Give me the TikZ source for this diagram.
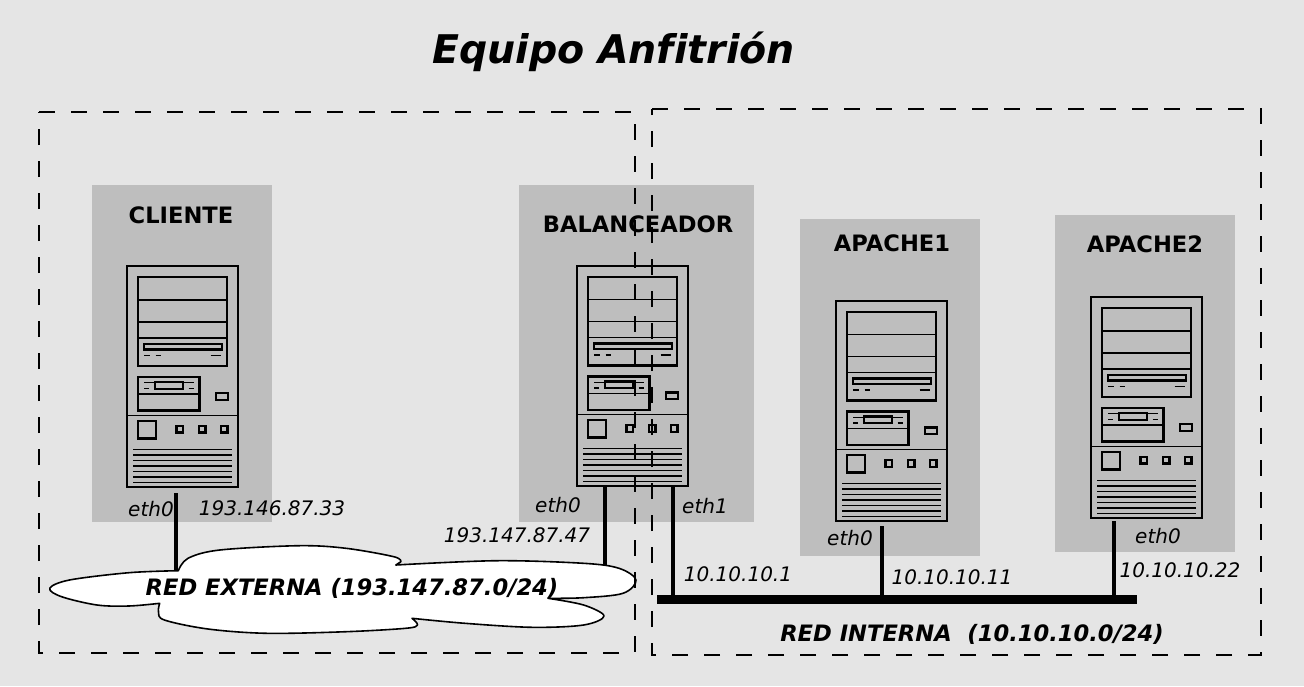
\documentclass[tikz,border=0pt]{standalone}
\usepackage{fontspec}
\setmainfont{DejaVu Sans}[Ligatures=NoCommon]
\usepackage{xcolor}
\usetikzlibrary{positioning}
\definecolor{fondo}{HTML}{E5E5E5}
\definecolor{gris}{HTML}{BEBEBE}
\tikzset{
  caja/.style={fill=gris,inner sep=0pt,minimum width=180pt},
  nombre/.style={inner sep=0pt,font=\fontsize{22.6pt}{25pt}\selectfont\bfseries},
  dato/.style={inner sep=0pt,font=\fontsize{20pt}{24pt}\selectfont\itshape},
  red/.style={inner sep=0pt,font=\fontsize{22.6pt}{26pt}\selectfont\bfseries\itshape},
  zona/.style={draw,line width=2pt,dash pattern=on 16pt off 16pt},
  cable/.style={line width=3.5pt},
  grueso/.style={line width=2.3pt},
  fino/.style={line width=1.2pt},
  pics/torre/.style={code={
    \draw[grueso] (0,0) rectangle (111,221);
    \draw[grueso] (11,11) rectangle (100,100);
    \draw[fino] (11,34) -- (100,34) (11,56) -- (100,56) (11,72) -- (100,72);
    \draw[grueso] (17,78) rectangle (95,83.5);
    \draw[fino] (17,89.5) -- (22.5,89.5) (28.5,89.5) -- (33.5,89.5) (83.5,89.5) -- (94,89.5);
    \draw[grueso] (11,111) rectangle (72.5,144.5);
    \draw[fino] (11,128) -- (72.5,128);
    \draw[grueso] (28,116) rectangle (56,122.7);
    \draw[fino] (17,116.7) -- (28,116.7) (56,116.7) -- (67,116.7) (17,122.7) -- (22,122.7) (61.5,122.7) -- (67,122.7);
    \draw[grueso] (89,127) rectangle (101,133.7);
    \draw[fino] (0,149.5) -- (111,149.5);
    \draw[grueso] (11,155) rectangle (28.7,172.5);
    \foreach \x in {49.5,72,94}
      \draw[grueso] (\x,160) rectangle ++(6.5,6.5);
    \foreach \y in {183.5,189,...,217}
      \draw[fino] (6,\y) -- (105,\y);
  }}
}
\begin{document}
\begin{tikzpicture}[x=1pt,y=-1pt]
    \fill[fondo] (0,0) rectangle (1304,686);
    \useasboundingbox (0,0) rectangle (1304,686);
    \node[font=\fontsize{39.5pt}{44pt}\selectfont\bfseries\itshape,inner sep=0pt] (titulo) at (613.5,52) {Equipo Anfitrión};
    % cajas
    \node[caja,minimum height=337pt] (cliente) at (182,353.5) {};
    \node[caja,minimum width=235pt,minimum height=337pt] (balanceador) at (636.5,353.5) {};
    \node[caja,minimum height=337pt] (apacheA) at (890,387.5) {};
    \node[caja,minimum height=337pt] (apacheB) at (1145,383.5) {};
    \node[nombre] (nCliente) at (181,215) {CLIENTE};
    \node[nombre] (nBalanceador) at (638,224) {BALANCEADOR};
    \node[nombre] (nApacheA) at (892,243) {APACHE1};
    \node[nombre] (nApacheB) at (1145,244) {APACHE2};
    % torres
    \pic at (127,266) {torre};
    \pic[yscale=0.995] at (577,266) {torre};
    \pic[yscale=0.995] at (836,301) {torre};
    \pic at (1091,297) {torre};
    % extremos de los cables
    \coordinate (cA) at (176,493);
    \coordinate (cB) at (176,572);
    \coordinate (bA) at (605,487);
    \coordinate (bB) at (605,566);
    \coordinate (bC) at (673,487);
    \coordinate (bD) at (673,597);
    \coordinate (aA) at (882,526);
    \coordinate (aB) at (882,597);
    \coordinate (pA) at (1114,521);
    \coordinate (pB) at (1114,597);
    \coordinate (busA) at (657,599);
    \coordinate (busB) at (1137,599);
    \draw[cable] (cA) -- (cB);
    \draw[cable] (bA) -- (bB);
    \draw[cable] (bC) -- (bD);
    \draw[cable] (aA) -- (aB);
    \draw[cable] (pA) -- (pB);
    \draw[line width=9pt] (busA) -- (busB);
    % nube
    \draw[fill=white,line width=1.6pt,line join=round]
      plot[smooth,tension=0.55] coordinates {(178.3,570.7) (188,558.3) (219.8,550) (298.9,545.7) (346,548.3) (393.8,556.7) (400.9,561.7)}
      -- (395.8,565)
      -- plot[smooth,tension=0.55] coordinates {(395.8,565) (496.6,560.7) (583.6,563.3) (619,568.3) (636,580) (623,593.3) (583.6,597.7) (548,598.3)}
      -- plot[smooth,tension=0.55] coordinates {(548,598.3) (583.6,605) (604,616) (583.6,625) (532,627.3) (465,623.3) (412,618.3)}
      -- plot[smooth,tension=0.55] coordinates {(412,618.3) (417.5,625) (405.6,628.3) (346,631.7) (267,633.3) (208,629) (164.4,620) (158.5,611.7) (159.7,603.3)}
      -- plot[smooth,tension=0.55] coordinates {(159.7,603.3) (128.9,606) (97,605) (61.6,596.7) (49.8,588.3) (69.5,580) (128.9,572.7) (178.3,570.7)}
      -- cycle;
    \node[red] (rExterna) at (352,588) {RED EXTERNA\ (193.147.87.0/24)};
    \node[red] (rInterna) at (972,634) {RED INTERNA\ \ (10.10.10.0/24)};
    % etiquetas
    \node[dato] (eCliente) at (151,509) {eth0};
    \node[dato] (ipCliente) at (272,508) {193.146.87.33};
    \node[dato] (eBalA) at (558,505) {eth0};
    \node[dato] (eBalB) at (705,506) {eth1};
    \node[dato] (ipBalA) at (517,535) {193.147.87.47};
    \node[dato] (ipBalB) at (738,574) {10.10.10.1};
    \node[dato] (eApA) at (850,538) {eth0};
    \node[dato] (ipApA) at (952,577) {10.10.10.11};
    \node[dato] (eApB) at (1158,536) {eth0};
    \node[dato] (ipApB) at (1180,570) {10.10.10.22};
    % zonas
    \coordinate (zA) at (39,112);
    \coordinate (zB) at (634.6,653);
    \coordinate (zC) at (652,109);
    \coordinate (zD) at (1261,655);
    \draw[zona] (zA) -- (zB |- zA) -- (zB) -- (zA |- zB) -- cycle;
    \draw[zona] (zC) -- (zD |- zC) -- (zD) -- (zC |- zD) -- cycle;
\end{tikzpicture}
\end{document}
